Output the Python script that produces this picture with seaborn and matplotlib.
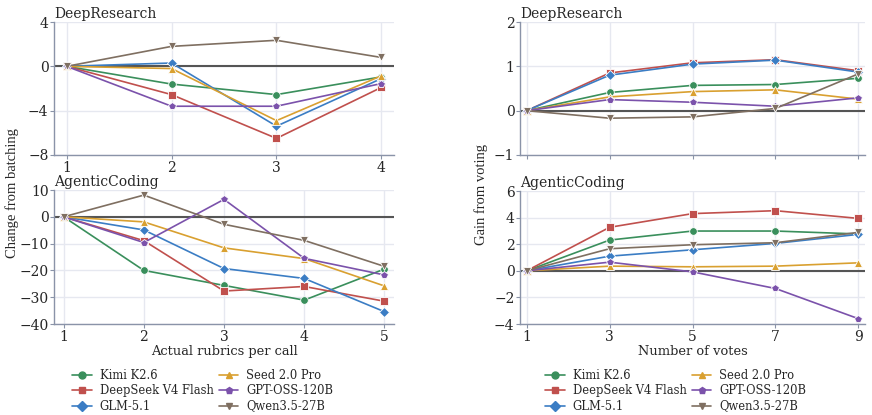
import numpy as np
import pandas as pd
import seaborn as sns
import matplotlib.pyplot as plt

# --- Data ---
models = ['Kimi K2.6', 'DeepSeek V4 Flash', 'GLM-5.1', 'Seed 2.0 Pro', 'GPT-OSS-120B', 'Qwen3.5-27B']
colors = ['#3a8f5c', '#c0504d', '#3b7dc4', '#d9a030', '#7b52ab', '#7f6f61']
markers = ['o', 's', 'D', '^', 'p', 'v']

# batching: change from batching vs rubrics per call
dr_rubrics = [1, 2, 3, 4]
dr_batch = {
    'Kimi K2.6':         [0, -1.6, -2.55, -0.95],
    'DeepSeek V4 Flash': [0, -2.55, -6.5, -1.9],
    'GLM-5.1':           [0, 0.3, -5.4, -1.1],
    'Seed 2.0 Pro':      [0, -0.2, -4.9, -0.85],
    'GPT-OSS-120B':      [0, -3.6, -3.6, -1.55],
    'Qwen3.5-27B':       [0, 1.8, 2.35, 0.8],
}
ac_rubrics = [1, 2, 3, 4, 5]
ac_batch = {
    'Kimi K2.6':         [0, -20.0, -25.6, -31.1, -19.5],
    'DeepSeek V4 Flash': [0, -8.9, -27.7, -26.0, -31.5],
    'GLM-5.1':           [0, -4.9, -19.3, -23.0, -35.4],
    'Seed 2.0 Pro':      [0, -1.9, -11.6, -15.6, -25.8],
    'GPT-OSS-120B':      [0, -9.6, 6.5, -15.5, -21.7],
    'Qwen3.5-27B':       [0, 8.1, -2.8, -8.8, -18.5],
}

# voting: gain from voting vs number of votes
votes = [1, 3, 5, 7, 9]
dr_vote = {
    'Kimi K2.6':         [0, 0.41, 0.57, 0.59, 0.73],
    'DeepSeek V4 Flash': [0, 0.85, 1.08, 1.15, 0.90],
    'GLM-5.1':           [0, 0.80, 1.05, 1.14, 0.87],
    'Seed 2.0 Pro':      [0, 0.31, 0.43, 0.47, 0.26],
    'GPT-OSS-120B':      [0, 0.25, 0.19, 0.10, 0.29],
    'Qwen3.5-27B':       [0, -0.17, -0.14, 0.05, 0.83],
}
ac_vote = {
    'Kimi K2.6':         [0, 2.31, 2.99, 2.99, 2.77],
    'DeepSeek V4 Flash': [0, 3.27, 4.30, 4.52, 3.94],
    'GLM-5.1':           [0, 1.10, 1.58, 2.06, 2.74],
    'Seed 2.0 Pro':      [0, 0.35, 0.30, 0.35, 0.60],
    'GPT-OSS-120B':      [0, 0.65, -0.08, -1.33, -3.60],
    'Qwen3.5-27B':       [0, 1.66, 1.96, 2.11, 2.89],
}


def to_long(xs, series):
    rows = []
    for m in models:
        for x, y in zip(xs, series[m]):
            rows.append({'x': x, 'y': y, 'model': m})
    return pd.DataFrame(rows)


# --- Plotting ---
sns.set_theme(style='whitegrid')
plt.rcParams['font.family'] = ['DejaVu Serif']
plt.rcParams['axes.edgecolor'] = '#8a93a8'
plt.rcParams['grid.color'] = '#e6e8f0'

fig = plt.figure(figsize=(8.72, 4.15), dpi=100)
W, H = 872, 415


def add_ax(x0, y0, x1, y1):
    return fig.add_axes([x0 / W, 1 - y1 / H, (x1 - x0) / W, (y1 - y0) / H])


ax_lt = add_ax(54, 22, 394, 155)
ax_lb = add_ax(54, 190, 394, 324)
ax_rt = add_ax(520, 22, 865, 155)
ax_rb = add_ax(520, 191, 865, 324)

palette = dict(zip(models, colors))
mk = dict(zip(models, markers))

panels = [
    (ax_lt, dr_rubrics, dr_batch, 'DeepResearch', (-8, 4), [-8, -4, 0, 4], dr_rubrics, 0.04),
    (ax_lb, ac_rubrics, ac_batch, 'AgenticCoding', (-40, 10), [-40, -30, -20, -10, 0, 10], ac_rubrics, 0.03),
    (ax_rt, votes, dr_vote, 'DeepResearch', (-1, 2), [-1, 0, 1, 2], votes, 0.02),
    (ax_rb, votes, ac_vote, 'AgenticCoding', (-4, 6), [-4, -2, 0, 2, 4, 6], votes, 0.02),
]

for ax, xs, series, title, ylim, yticks, xticks, xm in panels:
    df = to_long(xs, series)
    ax.axhline(0, color='#555555', lw=1.5, zorder=1)
    sns.lineplot(data=df, x='x', y='y', hue='model', style='model',
                 palette=palette, markers=mk, dashes=False, ax=ax,
                 lw=1.2, markersize=5.5, markeredgewidth=0.6, legend=False)
    ax.set_ylim(*ylim)
    ax.set_yticks(yticks)
    ax.set_yticklabels([f'{t:g}'.replace('-', '\u2212') for t in yticks])
    ax.set_xticks(xticks)
    ax.margins(x=xm)
    ax.set_xlabel('')
    ax.set_ylabel('')
    ax.set_title(title, loc='left', fontsize=10, pad=3)
    ax.tick_params(axis='both', labelsize=10, length=3, width=0.8,
                   color='#8a93a8', pad=1, left=True, bottom=True)
    for s in ['top', 'right']:
        ax.spines[s].set_visible(False)
    for s in ['left', 'bottom']:
        ax.spines[s].set_linewidth(1.0)

ax_rt.set_xticklabels([])
ax_lb.set_xlabel('Actual rubrics per call', fontsize=9.4, labelpad=1)
ax_rb.set_xlabel('Number of votes', fontsize=9.4, labelpad=1)

fig.text(12 / W, 1 - 193 / H, 'Change from batching', rotation=90,
         ha='center', va='center', fontsize=10.5, family='Liberation Serif')
fig.text(481 / W, 1 - 194 / H, 'Gain from voting', rotation=90,
         ha='center', va='center', fontsize=10.5, family='Liberation Serif')

# legends
handles = [plt.Line2D([], [], color=c, marker=m, lw=1.2, markersize=5)
           for c, m in zip(colors, markers)]
for x0 in (72, 545):
    fig.legend(handles, models, loc='upper left',
               bbox_to_anchor=(x0 / W, 1 - 369 / H), ncol=2, frameon=False,
               fontsize=8.3, handlelength=1.7, handletextpad=0.7,
               columnspacing=0.45, labelspacing=0.2, borderpad=0,
               borderaxespad=0)

fig.savefig('out.png', dpi=100)
